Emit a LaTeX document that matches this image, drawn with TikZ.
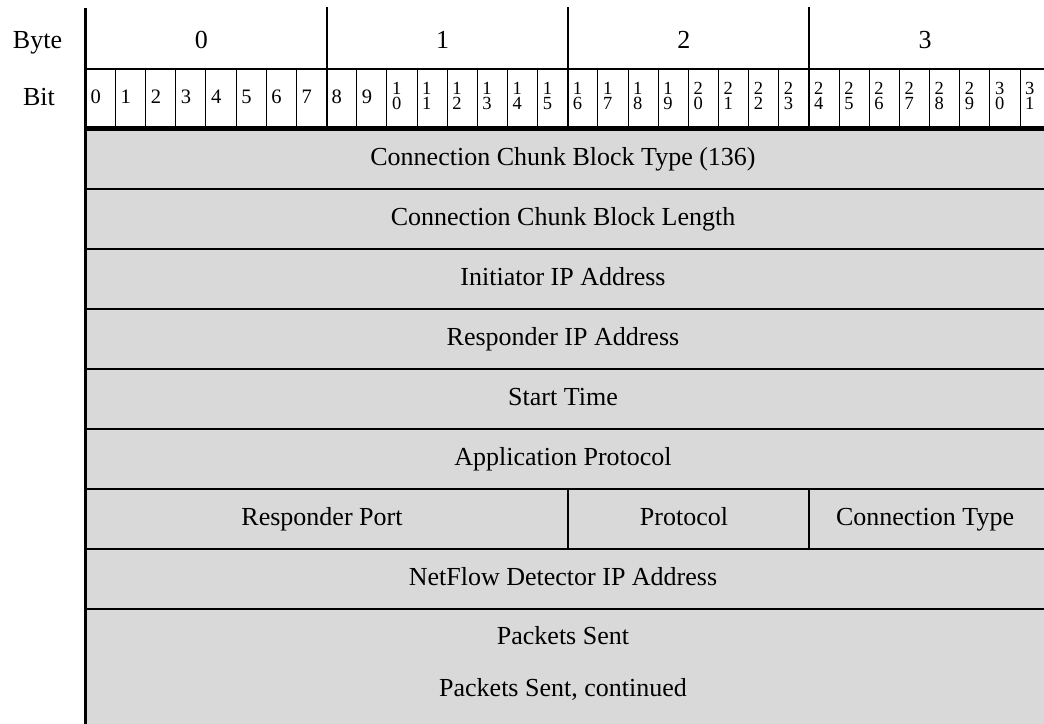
\documentclass[tikz,border=0pt]{standalone}
\usepackage{fontspec}
\setmainfont{Liberation Serif}
\definecolor{fieldgray}{RGB}{217,217,217}
\begin{document}
\begin{tikzpicture}[x=1pt,y=-1pt,
  big/.style={font=\fontsize{26}{30}\selectfont, inner sep=0pt, anchor=base},
  bitnum/.style={font=\fontsize{20.5}{20}\selectfont, inner sep=0pt, anchor=base west},
  bitsmall/.style={font=\fontsize{18.5}{18}\selectfont, inner sep=0pt, anchor=base west},
  frame/.style={line width=2pt, line cap=rect},
  thinline/.style={line width=0.9pt},
  heavy/.style={line width=4.5pt}]
\useasboundingbox (0,0) rectangle (1044,723);
\clip (0,0) rectangle (1044,723);
% field area fill
\fill[fieldgray] (85.3,128) rectangle (1060,740);
% header labels
\node[big] (lbyte) at (37.5,48) {Byte};
\node[big] (lbit) at (39,105) {Bit};
\foreach \b in {0,1,2,3} {
  \node[big] (byte\b) at ({85.3+241.2*\b+120.6-4.5},48) {\b};
}
% bit numbers
\foreach \i in {0,...,9} {
  \node[bitnum] (bit\i) at ({85.3+30.15*\i+5},103) {\i};
}
\foreach \i/\a/\c in {10/1/0,11/1/1,12/1/2,13/1/3,14/1/4,15/1/5,16/1/6,17/1/7,18/1/8,19/1/9,
  20/2/0,21/2/1,22/2/2,23/2/3,24/2/4,25/2/5,26/2/6,27/2/7,28/2/8,29/2/9,30/3/0,31/3/1} {
  \node[bitsmall] (bit\i) at ({85.3+30.15*\i+5},109.5) {\lineskip=0.8pt\shortstack[l]{\a\\\c}};
}
% bit cell dividers
\foreach \i in {1,...,31} {
  \draw[thinline] ({85.3+30.15*\i},69) -- ({85.3+30.15*\i},127);
}
% byte dividers
\foreach \b in {1,2,3} {
  \draw[frame] ({85.3+241.2*\b},8) -- ({85.3+241.2*\b},127);
}
% bit row top
\draw[frame] (85.3,69) -- (1060,69);
% heavy separator
\draw[heavy] (85.3,128.3) -- (1060,128.3);
% left border
\draw[line width=2.5pt] (85.3,8) -- (85.3,730);
% row separators
\foreach \y in {189,249,309,369,429,489,549,609} {
  \draw[frame] (85.3,\y) -- (1060,\y);
}
% split row dividers
\draw[frame] (567.7,489) -- (567.7,549);
\draw[frame] (808.9,489) -- (808.9,549);
% field texts
\node[big] (f1) at (563,165) {Connection Chunk Block Type (136)};
\node[big] (f2) at (563,225) {Connection Chunk Block Length};
\node[big] (f3) at (563,285) {Initiator IP Address};
\node[big] (f4) at (563,345) {Responder IP Address};
\node[big] (f5) at (563,405) {Start Time};
\node[big] (f6) at (563,465) {Application Protocol};
\node[big] (f7a) at (322,525) {Responder Port};
\node[big] (f7b) at (684,525) {Protocol};
\node[big] (f7c) at (925,525) {Connection Type};
\node[big] (f8) at (563,585) {NetFlow Detector IP Address};
\node[big] (f9) at (563,644.5) {Packets Sent};
\node[big] (f10) at (563,696.5) {Packets Sent, continued};
\end{tikzpicture}
\end{document}
